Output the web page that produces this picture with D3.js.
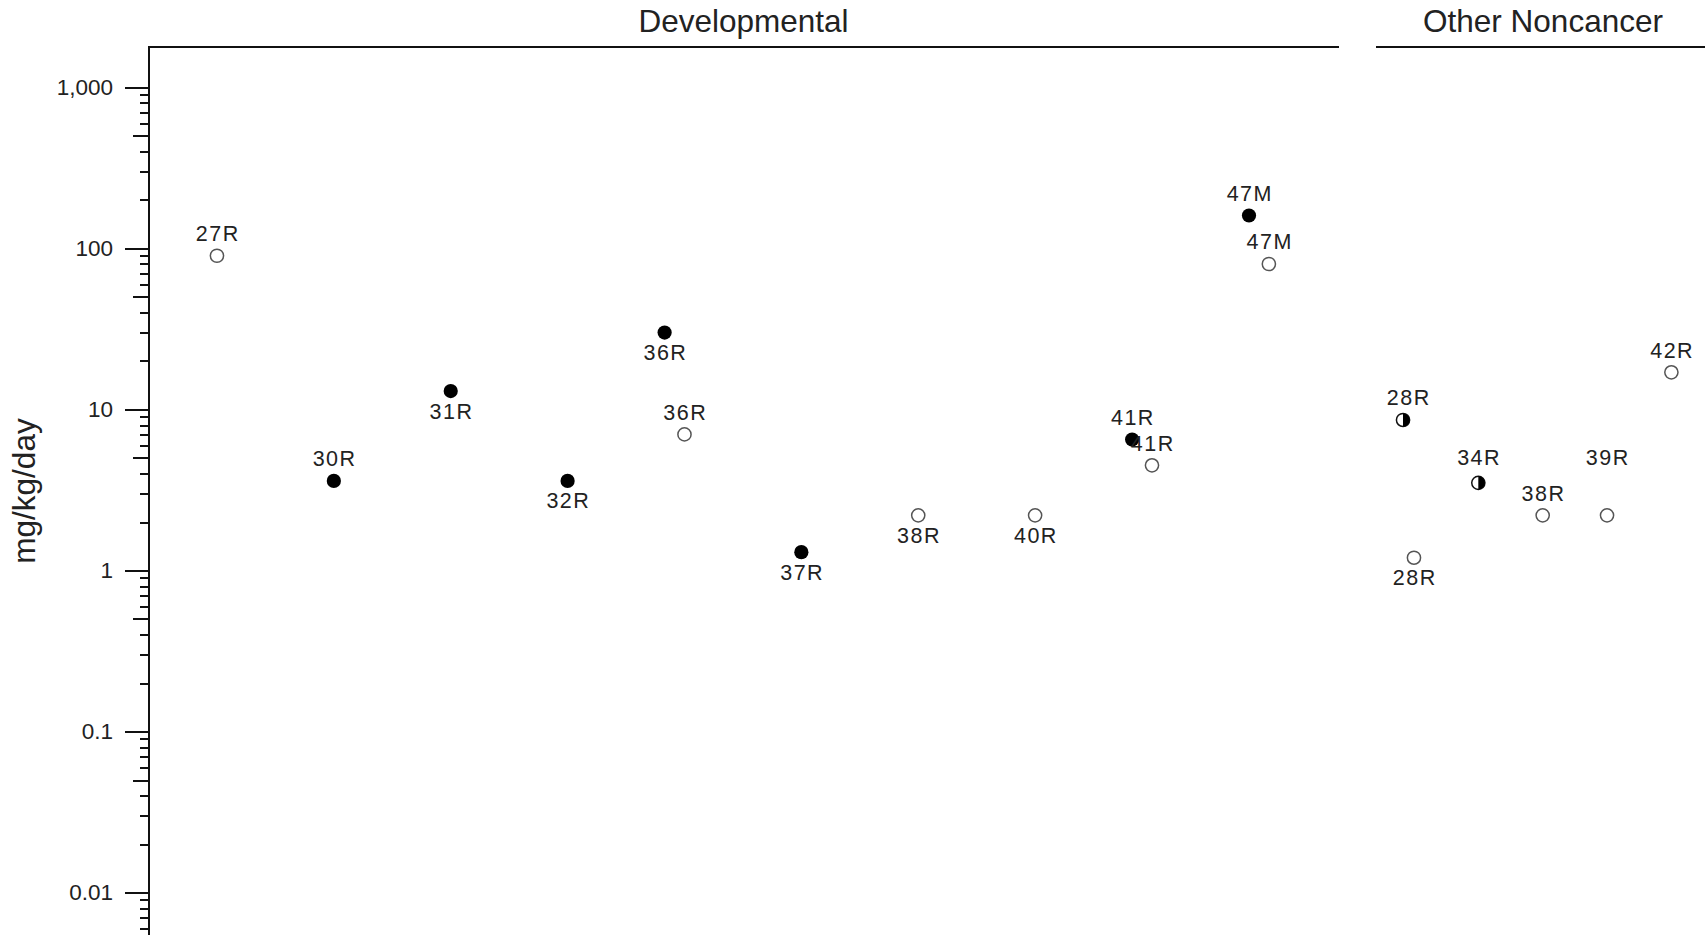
<!DOCTYPE html>
<html>
<head>
<meta charset="utf-8">
<script src="https://cdn.jsdelivr.net/npm/d3@7"></script>
<style>
  body { margin: 0; background: #fff; }
  svg { display: block; font-family: "Liberation Sans", Arial, sans-serif; }
  .axis path, .axis line { stroke: #111; stroke-width: 2px; shape-rendering: crispEdges; }
  .axis text { font-size: 22.5px; fill: #222; }
  .lbl { font-size: 21.5px; fill: #222; letter-spacing: 1.5px; }
  .big { font-size: 31.5px; fill: #222; }
</style>
</head>
<body>
<div id="chart"></div>
<script>
// ---- data ----
var studies = ["27R","30R","31R","32R","36R","36R","37R","38R","40R","41R","41R","47M","47M",
               "28R","28R","34R","38R","39R","42R"];
var panelOf = ["Developmental","Developmental","Developmental","Developmental","Developmental",
               "Developmental","Developmental","Developmental","Developmental","Developmental",
               "Developmental","Developmental","Developmental",
               "Other Noncancer","Other Noncancer","Other Noncancer","Other Noncancer",
               "Other Noncancer","Other Noncancer"];
// study slot inside its panel
var slots = [1, 2, 3, 4, 5, 5, 6, 7, 8, 9, 9, 10, 10,
             1, 1, 2, 3, 4, 5];
// mg/kg/day
var doses = [90, 3.6, 13, 3.6, 30, 7, 1.3, 2.2, 2.2, 6.5, 4.5, 160, 80,
             8.6, 1.2, 3.5, 2.2, 2.2, 17];
var markers = ["open","filled","filled","filled","filled","open","filled","open","open",
               "filled","open","filled","open",
               "half","open","half","open","open","open"];

var panels = ["Developmental", "Other Noncancer"];
var panelSlots = [10, 5];

var majorTicks = [0.01, 0.1, 1, 10, 100, 1000];
var tickLabels = ["0.01", "0.1", "1", "10", "100", "1,000"];
var midTicks = [0.05, 0.5, 5, 50, 500];
var minorMult = [2, 3, 4, 6, 7, 8, 9];
var decades = [0.001, 0.01, 0.1, 1, 10, 100, 1000];

// ---- layout ----
var width = 1705, height = 935;
var marginLeft = 148, marginTop = 47;
var panelPx = [[148, 1339], [1376, 1710]];
var pairNudge = -0.17;   // first marker of a pair sits a bit left of its slot
// label placement
var labelSide = ["above","above","below","below","below","above","below","below","below",
                 "above","above","above","above",
                 "above","below","above","above","above","above"];
var labelLift = [0,0,0,0,0,0,0,0,0,0,0,0,0, 0,0,3,0,36,0];
var labelDx   = [0,0,0,0,0,0,0,0,0,0,0,0,0, 5,0,0,0,0,0];

var y = d3.scaleLog().domain([0.0053, 1780]).range([937, marginTop]);

// one slot scale per panel
var xs = {};
panels.forEach(function(p, i){
    xs[p] = d3.scaleLinear()
        .domain([0.41, panelSlots[i] + 0.6])
        .range(panelPx[i]);
});

var svg = d3.select("#chart").append("svg")
    .attr("width", width)
    .attr("height", height);

// panel header lines + titles
panels.forEach(function(p, i){
    var r = xs[p].range();
    svg.append("line")
        .attr("x1", r[0]).attr("x2", r[1])
        .attr("y1", marginTop).attr("y2", marginTop)
        .attr("stroke", "#111").attr("stroke-width", 2);
    svg.append("text")
        .attr("class", "big")
        .attr("x", (r[0] + r[1]) / 2)
        .attr("y", 32)
        .attr("text-anchor", "middle")
        .text(p);
});

// y axis: major, mid and minor ticks
var dom = y.domain();
var minorTicks = [];
decades.forEach(function(d){
    minorMult.forEach(function(m){
        var v = d * m;
        if (v >= dom[0] && v <= dom[1]) minorTicks.push(v);
    });
});

var yAxis = d3.axisLeft(y)
    .tickValues(majorTicks)
    .tickSize(23)
    .tickSizeOuter(0)
    .tickPadding(12)
    .tickFormat(function(d, i){ return tickLabels[i]; });

svg.append("g")
    .attr("class", "axis")
    .attr("transform", "translate(" + marginLeft + ",0)")
    .call(yAxis);

svg.append("g")
    .attr("class", "axis")
    .attr("transform", "translate(" + marginLeft + ",0)")
    .call(d3.axisLeft(y).tickValues(midTicks).tickSize(15).tickFormat(""))
    .select(".domain").remove();

svg.append("g")
    .attr("class", "axis")
    .attr("transform", "translate(" + marginLeft + ",0)")
    .call(d3.axisLeft(y).tickValues(minorTicks).tickSize(8).tickFormat(""))
    .select(".domain").remove();

// y axis title
svg.append("text")
    .attr("class", "big")
    .attr("transform", "translate(35,491) rotate(-90)")
    .attr("text-anchor", "middle")
    .text("mg/kg/day");

// points
var pts = studies.map(function(s, i){
    return { study: s, panel: panelOf[i], dose: doses[i], marker: markers[i], slot: slots[i], idx: i };
});

var rOpen = 6.6, rFill = 7.1;
var halfArc = d3.arc().innerRadius(0).outerRadius(rOpen).startAngle(0).endAngle(Math.PI);

var g = svg.append("g").attr("class", "points");
pts.forEach(function(d, i){
    // a pair shares one slot: nudge the first one left
    var next = pts[i + 1];
    var paired = next && next.panel == d.panel && next.slot == d.slot;
    var cx = xs[d.panel](d.slot + (paired ? pairNudge : 0));
    var cy = y(d.dose);
    var pg = g.append("g").attr("transform", "translate(" + cx + "," + cy + ")");
    if (d.marker == "filled") {
        pg.append("circle").attr("r", rFill).attr("fill", "#000");
    } else {
        pg.append("circle").attr("r", rOpen)
            .attr("fill", "#fff")
            .attr("stroke", d.marker == "half" ? "#111" : "#555")
            .attr("stroke-width", 1.5);
        if (d.marker == "half") {
            pg.append("path").attr("d", halfArc).attr("fill", "#000");
        }
    }
    g.append("text")
        .attr("class", "lbl")
        .attr("x", cx + labelDx[i] + 0.8)
        .attr("y", labelSide[i] == "above" ? cy - 14.5 - labelLift[i] : cy + 27.5)
        .attr("text-anchor", "middle")
        .text(d.study);
});
</script>
</body>
</html>
